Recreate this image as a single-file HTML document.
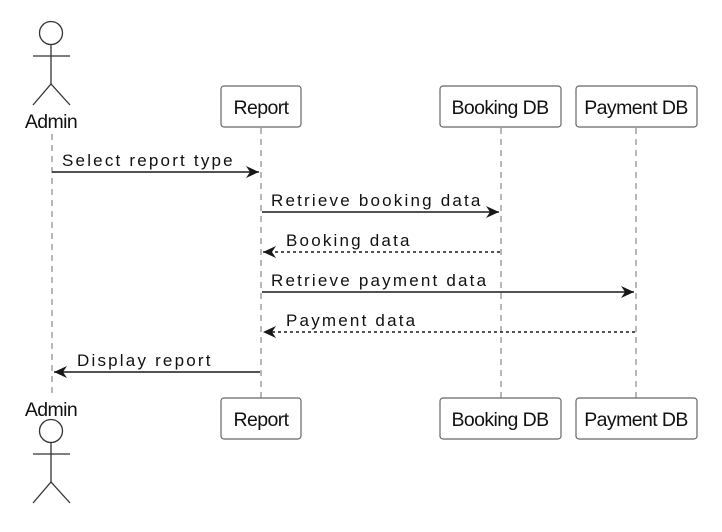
<!DOCTYPE html><html><head><style>body{margin:0;background:#fff}</style></head><body>
<svg width="722" height="527" xmlns="http://www.w3.org/2000/svg" font-family="Liberation Sans, sans-serif">
<defs><marker id="a" markerWidth="14" markerHeight="12" refX="13" refY="6" orient="auto" markerUnits="userSpaceOnUse"><path d="M0,0 L13,6 L0,12 L4,6 Z" fill="#181818"/></marker></defs>
<g stroke="#888" stroke-width="1.2" stroke-dasharray="6,5">
<line x1="52" y1="134" x2="52" y2="398"/><line x1="261" y1="128" x2="261" y2="398"/>
<line x1="501" y1="128" x2="501" y2="398"/><line x1="636" y1="128" x2="636" y2="398"/></g>
<g fill="none" stroke="#333" stroke-width="1.3">
<circle cx="51" cy="33" r="11.5"/><line x1="51" y1="45" x2="51" y2="84"/><line x1="33" y1="56" x2="70" y2="56"/><path d="M33,105 L51,84 L70,105"/>
<circle cx="51" cy="431" r="11.5"/><line x1="51" y1="443" x2="51" y2="482"/><line x1="33" y1="454" x2="70" y2="454"/><path d="M33,503 L51,482 L70,503"/>
</g>
<g fill="#fff" stroke="#666" stroke-width="1.2">
<rect x="221" y="86" width="80" height="41" rx="3"/><rect x="440" y="86" width="121" height="41" rx="3"/><rect x="576" y="86" width="121" height="41" rx="3"/>
<rect x="221" y="398" width="80" height="41" rx="3"/><rect x="440" y="398" width="121" height="41" rx="3"/><rect x="576" y="398" width="121" height="41" rx="3"/>
</g>
<g font-size="19.5" fill="#111" text-anchor="middle" letter-spacing="-0.6">
<text x="51" y="128">Admin</text><text x="51" y="416">Admin</text>
<text x="261" y="114">Report</text><text x="500" y="114">Booking DB</text><text x="636" y="114">Payment DB</text>
<text x="261" y="426">Report</text><text x="500" y="426">Booking DB</text><text x="636" y="426">Payment DB</text>
</g>
<g stroke="#181818" stroke-width="1.5">
<line x1="52" y1="172" x2="259" y2="172" marker-end="url(#a)"/>
<line x1="262" y1="212" x2="499" y2="212" marker-end="url(#a)"/>
<line x1="500" y1="252" x2="263" y2="252" stroke-dasharray="3,3" marker-end="url(#a)"/>
<line x1="262" y1="292" x2="634" y2="292" marker-end="url(#a)"/>
<line x1="635" y1="332" x2="263" y2="332" stroke-dasharray="3,3" marker-end="url(#a)"/>
<line x1="260" y1="372" x2="54" y2="372" marker-end="url(#a)"/>
</g>
<g font-size="17" fill="#111" letter-spacing="2.2">
<text x="62" y="166">Select report type</text>
<text x="271" y="206">Retrieve booking data</text>
<text x="286" y="246">Booking data</text>
<text x="271" y="286">Retrieve payment data</text>
<text x="286" y="326">Payment data</text>
<text x="77" y="366">Display report</text>
</g>
</svg></body></html>
